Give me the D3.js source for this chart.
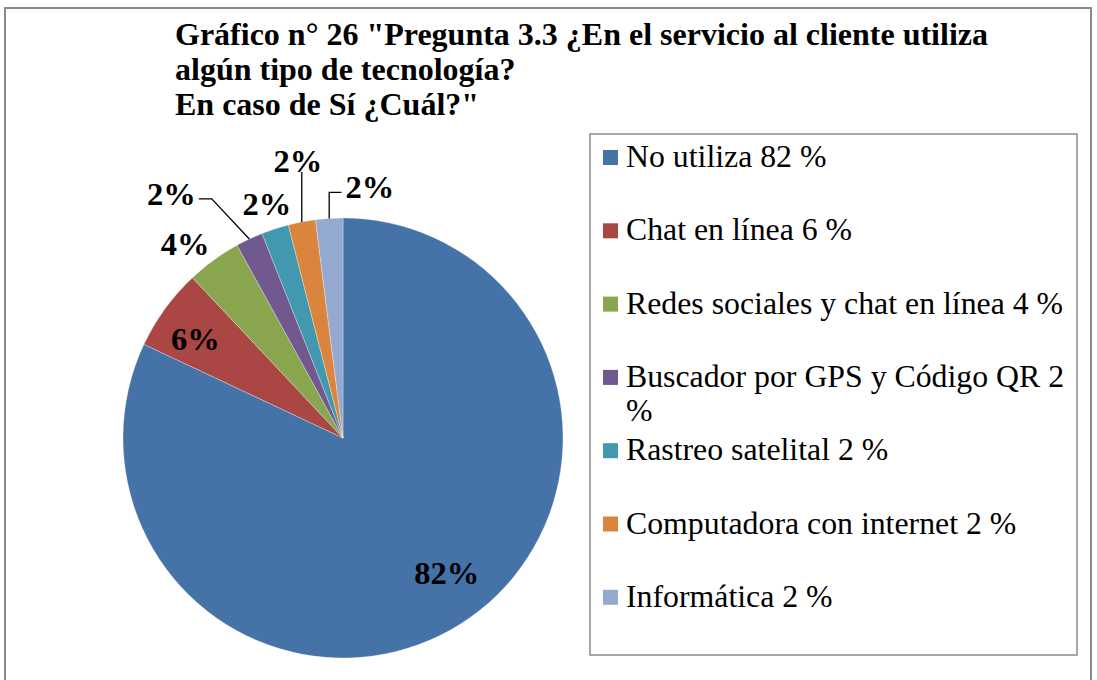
<!DOCTYPE html>
<html>
<head>
<meta charset="utf-8">
<script src="https://cdn.jsdelivr.net/npm/d3@7"></script>
<style>
  body { margin: 0; background: #fff; }
</style>
</head>
<body>
<div id="chart-area"></div>
<script>
// data
var titleLines = [
  "Gráfico n° 26 \"Pregunta 3.3 ¿En el servicio al cliente utiliza",
  "algún tipo de tecnología?",
  "En caso de Sí ¿Cuál?\""
];
var categories = [
  "No utiliza 82 %",
  "Chat en línea 6 %",
  "Redes sociales y chat en línea 4 %",
  "Buscador por GPS y Código QR 2 %",
  "Rastreo satelital 2 %",
  "Computadora con internet 2 %",
  "Informática 2 %"
];
var values = [82, 6, 4, 2, 2, 2, 2];
var sliceLabels = ["82%", "6%", "4%", "2%", "2%", "2%", "2%"];
var colors = ["#4572A7", "#AA4643", "#89A54E", "#71588F", "#4198AF", "#DB843D", "#93A9CF"];

var width = 1097, height = 680;
var cx = 343, cy = 438, radius = 220;
var serif = "'Liberation Serif', 'Times New Roman', serif";

// label placement: angle shift (deg) and radius factor, leader style
var labelPlace = [
  { da: -5.2, k: 0.773, leader: null },
  { da: -2,   k: 0.81,  leader: null },
  { da: -3,   k: 1.14,  leader: null },
  { da: -9.8, k: 1.36,  leader: "left" },
  { da: 0,    k: 1.12,  leader: null },
  { da: 1.6,  k: 1.28,  leader: "up" },
  { da: 9.7,  k: 1.15,  leader: "right" }
];

var svg = d3.select("#chart-area")
  .append("svg")
    .attr("width", width)
    .attr("height", height)
    .attr("font-family", serif);

// outer frame
svg.append("rect")
  .attr("x", 5).attr("y", 8)
  .attr("width", 1086).attr("height", 700)
  .attr("fill", "none")
  .attr("stroke", "#8a8a8a")
  .attr("stroke-width", 2);

// title
svg.append("g").selectAll("text")
  .data(titleLines)
  .enter().append("text")
    .attr("x", 175)
    .attr("y", function(d, i) { return 45 + i * 35; })
    .attr("font-size", "32px")
    .attr("font-weight", "bold")
    .text(function(d) { return d; });

// pie
var pie = d3.pie().sort(null).value(function(d) { return d; });
var arcs = pie(values);
var arc = d3.arc().innerRadius(0).outerRadius(radius);

var g = svg.append("g")
  .attr("transform", "translate(" + cx + "," + cy + ")");

g.selectAll("path")
  .data(arcs)
  .enter().append("path")
    .attr("d", arc)
    .attr("fill", function(d, i) { return colors[i]; })
    .attr("stroke", "#ffffff")
    .attr("stroke-opacity", 0.5)
    .attr("stroke-width", 0.6);

function polar(angle, r) {
  return [Math.sin(angle) * r, -Math.cos(angle) * r];
}

// slice labels
arcs.forEach(function(d, i) {
  var p = labelPlace[i];
  var mid = (d.startAngle + d.endAngle) / 2;
  var pos = polar(mid + p.da * Math.PI / 180, p.k * radius);

  var t = g.append("text")
    .attr("x", pos[0])
    .attr("y", pos[1])
    .attr("dy", "0.36em")
    .attr("text-anchor", "middle")
    .attr("font-size", "32.5px")
    .attr("font-weight", "bold")
    .text(sliceLabels[i]);

  if (p.leader) {
    var half = t.node().getComputedTextLength() / 2;
    var start = polar(mid, radius);
    var pts;
    if (p.leader === "left") {
      pts = [start, [pos[0] + half + 16, pos[1] + 6], [pos[0] + half + 3, pos[1] + 6]];
    } else if (p.leader === "up") {
      pts = [start, [start[0], pos[1] + 12]];
    } else {
      pts = [start, [start[0], pos[1] + 6], [pos[0] - half - 4, pos[1] + 6]];
    }
    g.append("path")
      .attr("d", d3.line()(pts))
      .attr("fill", "none")
      .attr("stroke", "#000")
      .attr("stroke-width", 1.3);
  }
});

// legend
var legend = svg.append("g");
legend.append("rect")
  .attr("x", 590).attr("y", 134)
  .attr("width", 487).attr("height", 521)
  .attr("fill", "#fff")
  .attr("stroke", "#8a8a8a")
  .attr("stroke-width", 1.5);

var maxTextW = 442;
categories.forEach(function(c, i) {
  var base = 167 + i * 73.3;
  legend.append("rect")
    .attr("x", 603).attr("y", base - 17)
    .attr("width", 15).attr("height", 15)
    .attr("fill", colors[i]);

  var t = legend.append("text")
    .attr("x", 626).attr("y", base)
    .attr("font-size", "31.8px");

  // simple word wrap
  var words = c.split(" "), line = [], lineNo = 0;
  var tspan = t.append("tspan").attr("x", 626).attr("y", base);
  words.forEach(function(w) {
    line.push(w);
    tspan.text(line.join(" "));
    if (tspan.node().getComputedTextLength() > maxTextW && line.length > 1) {
      line.pop();
      tspan.text(line.join(" "));
      line = [w];
      lineNo++;
      tspan = t.append("tspan").attr("x", 626).attr("y", base + lineNo * 34).text(w);
    }
  });
});
</script>
</body>
</html>
